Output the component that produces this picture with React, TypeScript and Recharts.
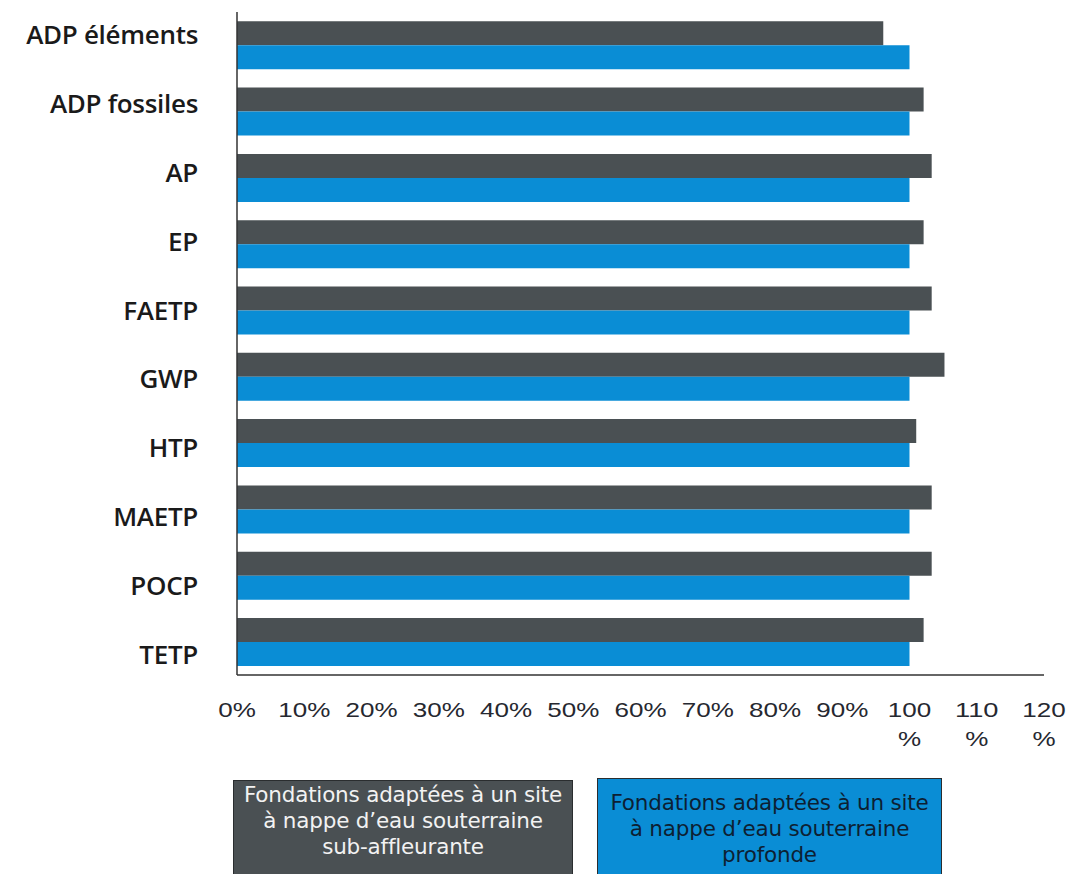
import { Bar, BarChart, Legend, XAxis, YAxis } from "recharts";

const categories = ["ADP éléments", "ADP fossiles", "AP", "EP", "FAETP", "GWP", "HTP", "MAETP", "POCP", "TETP"];
const subAffleurante = [96.1, 102.1, 103.3, 102.1, 103.3, 105.2, 101.0, 103.3, 103.3, 102.1];
const profonde = [100, 100, 100, 100, 100, 100, 100, 100, 100, 100];
const xTicks = [0, 10, 20, 30, 40, 50, 60, 70, 80, 90, 100, 110, 120];
const seriesNames = [
  ["Fondations adaptées à un site", "à nappe d’eau souterraine", "sub-affleurante"],
  ["Fondations adaptées à un site", "à nappe d’eau souterraine", "profonde"],
];

const GREY = "#4a5053";
const BLUE = "#0a8dd5";

const rows = categories.map((name, i) => ({ name, sub: subAffleurante[i], prof: profonde[i] }));

// source tick labels look like Arial stretched ~1.24x horizontally
const TICK_SIZE = 21;
const STRETCH = 1.24;
function stretchedWidth(s: string) {
  let em = 0;
  for (const ch of s) em += ch === "%" ? 0.889 : 0.556;
  return em * TICK_SIZE * STRETCH;
}

function Label({ x, y, value }: { x: number; y: number; value: string }) {
  return <text x={x} y={y} textAnchor="middle" textLength={stretchedWidth(value)} lengthAdjust="spacingAndGlyphs" style={{ fontFamily: "'Liberation Sans', Arial, sans-serif", fontSize: TICK_SIZE, fill: "#262830" }}>{value}</text>;
}

function XTick({ x, y, payload }: any) {
  const v = Number(payload.value);
  if (v >= 100) {
    return <g>
      <Label x={x} y={y + 34} value={String(v)} />
      <Label x={x} y={y + 63} value="%" />
    </g>;
  }
  return <Label x={x} y={y + 34} value={`${v}%`} />;
}

// labels in the source sit slightly more spread out than the bar bands
function YTick({ x, y, payload, index }: any) {
  const shift = (index - 4.5) * 2.6 + 1.5;
  return <text x={x - 37} y={y + shift} dy={9} textAnchor="end" style={{ fontFamily: "'Open Sans', sans-serif", fontWeight: 600, fontSize: 26, fill: "#1a1a1a", letterSpacing: -0.3 }}>{payload.value}</text>;
}

function LegendBoxes() {
  const boxes = [
    { left: 233, top: 2, width: 340, fill: GREY, color: "#f2f2f2", pad: 1, lines: seriesNames[0] },
    { left: 597, top: 0, width: 345, fill: BLUE, color: "#0d1f33", pad: 11, lines: seriesNames[1] },
  ];
  return <div style={{ position: "relative", width: 1075, height: 96 }}>
    {boxes.map((b, i) => <div key={i} style={{ position: "absolute", left: b.left, top: b.top, width: b.width, height: 110, background: b.fill, border: "1.5px solid #2a2d2f", boxSizing: "border-box", color: b.color, fontFamily: "'DejaVu Sans', sans-serif", fontSize: 21.5, lineHeight: "26px", textAlign: "center", paddingTop: b.pad, whiteSpace: "nowrap", letterSpacing: -0.2 }}>
      {b.lines.map((l) => <div key={l}>{l}</div>)}
    </div>)}
  </div>;
}

export default function App() {
  return <div style={{ position: "absolute", left: 0, top: 0, width: 1075, height: 874, overflow: "hidden", background: "#fff" }}>
    <BarChart width={1075} height={874} data={rows} layout="vertical" margin={{ top: 12, right: 31, bottom: 0, left: 0 }} barCategoryGap="14%" barGap={0}>
      <XAxis type="number" domain={[0, 120]} ticks={xTicks} interval={0} tick={<XTick />} tickLine={false} axisLine={{ stroke: "#333", strokeWidth: 1.5 }} height={103} />
      <YAxis type="category" dataKey="name" width={237} tick={<YTick />} tickLine={false} axisLine={{ stroke: "#333", strokeWidth: 1.5 }} tickSize={0} />
      <Legend verticalAlign="bottom" align="left" content={() => <LegendBoxes />} wrapperStyle={{ left: 0, width: 1075, height: 96 }} />
      <Bar dataKey="sub" fill={GREY} isAnimationActive={false} />
      <Bar dataKey="prof" fill={BLUE} isAnimationActive={false} />
    </BarChart>
  </div>;
}
